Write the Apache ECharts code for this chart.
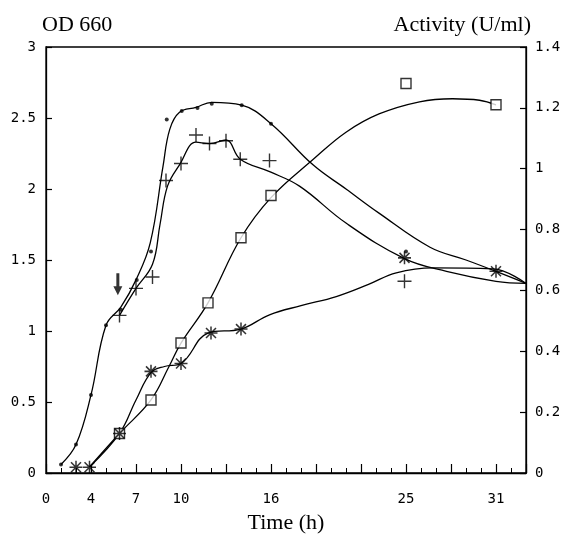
<!DOCTYPE html>
<html><head><meta charset="utf-8">
<script src="https://cdn.jsdelivr.net/npm/echarts@6/dist/echarts.min.js"></script>
<style>html,body{margin:0;padding:0;background:#fff}#c{width:563px;height:541px}</style>
</head><body><div id="c"></div>
<script>
// x values are in plot units of the time axis (one major tick = 3 units)
const xTickPos  = [0, 3, 6, 9, 15, 24, 30];
const xTickText = ['0', '4', '7', '10', '16', '25', '31'];

// OD 660 - small dots
const dotTime = [1.0, 2.0, 3.0, 4.0, 5.0, 6.05, 7.0, 8.05, 9.05, 10.1, 11.05, 13.05, 15.0, 24.0];
const dotOD   = [0.06, 0.20, 0.55, 1.04, 1.15, 1.36, 1.56, 2.49, 2.55, 2.57, 2.60, 2.59, 2.46, 1.56];
const dotFitTime = [1.0, 2.0, 3.0, 4.0, 5.0, 6.0, 6.95, 7.8, 8.25, 8.9, 10.0, 11.05, 13.05, 15.0, 17.8, 20.0, 22.2, 25.6, 28.0, 30.0, 32.0];
const dotFitOD   = [0.06, 0.20, 0.55, 1.04, 1.17, 1.36, 1.62, 2.16, 2.42, 2.54, 2.575, 2.61, 2.59, 2.46, 2.17, 2.0, 1.83, 1.59, 1.50, 1.42, 1.336];

// OD 660 - plus markers
const plusTime = [4.9, 6.0, 7.1, 8.0, 9.0, 10.0, 10.9, 12.0, 12.95, 14.9, 23.9];
const plusOD   = [1.11, 1.30, 1.38, 2.06, 2.18, 2.38, 2.32, 2.34, 2.21, 2.20, 1.35];
const plusFitTime = [4.9, 6.0, 7.1, 7.6, 8.1, 8.9, 10.0, 10.9, 12.0, 12.95, 14.95, 16.9, 20.0, 23.9, 26.7, 30.0, 32.0];
const plusFitOD   = [1.11, 1.30, 1.47, 1.75, 2.02, 2.17, 2.33, 2.32, 2.345, 2.21, 2.12, 2.02, 1.76, 1.51, 1.42, 1.35, 1.336];

// Activity - squares
const sqTime = [4.9, 7.0, 9.0, 10.8, 13.0, 15.0, 24.0, 30.0];
const sqAct  = [0.13, 0.24, 0.427, 0.559, 0.773, 0.912, 1.28, 1.21];
const sqFitTime = [2.9, 4.9, 7.0, 8.2, 9.0, 10.8, 13.0, 15.0, 17.8, 20.0, 22.2, 24.9, 27.1, 28.9, 30.0];
const sqFitAct  = [0.02, 0.13, 0.24, 0.35, 0.427, 0.559, 0.773, 0.905, 1.03, 1.12, 1.18, 1.22, 1.23, 1.225, 1.21];

// Activity - asterisks
const starTime = [2.0, 2.9, 4.9, 7.0, 9.0, 11.0, 13.0, 23.9, 30.0];
const starAct  = [0.019, 0.019, 0.13, 0.334, 0.36, 0.46, 0.473, 0.707, 0.663];
const starFitTime = [2.9, 4.9, 6.0, 7.0, 7.9, 9.0, 10.8, 13.0, 14.9, 17.0, 19.35, 21.5, 23.35, 25.8, 29.8, 32.0];
const starFitAct  = [0.02, 0.13, 0.24, 0.33, 0.35, 0.36, 0.46, 0.473, 0.52, 0.55, 0.58, 0.62, 0.658, 0.674, 0.671, 0.623];

// induction arrow
const arrowTime = [4.79];
const arrowOD   = [1.33];

const pairs = (xs, ys) => xs.map((x, i) => [x, ys[i]]);

const PLUS = 'path://M6.3,0 H7.7 V6.3 H14 V7.7 H7.7 V14 H6.3 V7.7 H0 V6.3 H6.3 Z';
const STAR = 'path://M5.3,0 H6.7 V12 H5.3 Z M0,5.3 H12 V6.7 H0 Z M0.9,1.9 L1.9,0.9 L11.1,10.1 L10.1,11.1 Z M10.1,0.9 L11.1,1.9 L1.9,11.1 L0.9,10.1 Z';
const ARROW = 'path://M3,0 H6 V13 H9 L4.5,22 L0,13 H3 Z';

const fitLine = (name, xs, ys, yi) => ({
  name, type: 'line', yAxisIndex: yi, data: pairs(xs, ys), smooth: 0.4,
  showSymbol: false, lineStyle: { color: '#000', width: 1.3 }, z: 2, silent: true
});
const markers = (name, xs, ys, yi, symbol, size, extra) => Object.assign({
  name, type: 'scatter', yAxisIndex: yi, data: pairs(xs, ys), symbol, symbolSize: size,
  itemStyle: { color: '#000' }, z: 3, silent: true
}, extra || {});

const labelFont = { fontFamily: 'DejaVu Sans Mono', fontSize: 14, color: '#000' };
const nameFont = { fontFamily: 'Liberation Serif', fontSize: 22, color: '#000' };

const chart = echarts.init(document.getElementById('c'), null, { renderer: 'canvas' });
chart.setOption({
  animation: false,
  backgroundColor: '#fff',
  grid: { left: 46, right: 37, top: 47, bottom: 68, show: true, borderColor: '#000', borderWidth: 1.3, outerBoundsMode: 'none', containLabel: false },
  xAxis: {
    type: 'value', min: 0, max: 32, interval: 3,
    name: 'Time (h)', nameLocation: 'middle', nameGap: 50,
    nameTextStyle: Object.assign({ verticalAlign: 'middle' }, nameFont),
    axisLine: { show: true, lineStyle: { color: '#000', width: 1.3 } },
    axisTick: { show: true, inside: true, length: 9, lineStyle: { color: '#000', width: 1.2 } },
    minorTick: { show: true, splitNumber: 3, length: 5, lineStyle: { color: '#000', width: 1 } },
    splitLine: { show: false },
    axisLabel: Object.assign({ margin: 19, showMaxLabel: false,
      formatter: v => { const i = xTickPos.indexOf(v); return i >= 0 ? xTickText[i] : ''; } }, labelFont)
  },
  yAxis: [
    {
      type: 'value', min: 0, max: 3, interval: 0.5, position: 'left',
      name: 'OD 660', nameLocation: 'end', nameGap: 11,
      nameTextStyle: Object.assign({ align: 'left', verticalAlign: 'bottom', padding: [0, 0, 0, -4] }, nameFont),
      axisLine: { show: true, lineStyle: { color: '#000', width: 1.3 } },
      axisTick: { show: true, inside: true, length: 6, lineStyle: { color: '#000', width: 1.2 } },
      splitLine: { show: false },
      axisLabel: Object.assign({ margin: 10 }, labelFont)
    },
    {
      type: 'value', min: 0, max: 1.4, interval: 0.2, position: 'right',
      name: 'Activity (U/ml)', nameLocation: 'end', nameGap: 11,
      nameTextStyle: Object.assign({ align: 'right', verticalAlign: 'bottom', padding: [0, -5, 0, 0] }, nameFont),
      axisLine: { show: true, lineStyle: { color: '#000', width: 1.3 } },
      axisTick: { show: true, inside: true, length: 6, lineStyle: { color: '#000', width: 1.2 } },
      splitLine: { show: false },
      axisLabel: Object.assign({ margin: 9 }, labelFont)
    }
  ],
  series: [
    fitLine('dotFit', dotFitTime, dotFitOD, 0),
    fitLine('plusFit', plusFitTime, plusFitOD, 0),
    fitLine('sqFit', sqFitTime, sqFitAct, 1),
    fitLine('starFit', starFitTime, starFitAct, 1),
    markers('dots', dotTime, dotOD, 0, 'circle', 4),
    markers('plus', plusTime, plusOD, 0, PLUS, 14),
    markers('squares', sqTime, sqAct, 1, 'rect', 10, { itemStyle: { color: '#fff', borderColor: '#000', borderWidth: 1.4 } }),
    markers('stars', starTime, starAct, 1, STAR, 13),
    markers('arrow', arrowTime, arrowOD, 0, ARROW, [9, 22])
  ]
});
</script></body></html>
